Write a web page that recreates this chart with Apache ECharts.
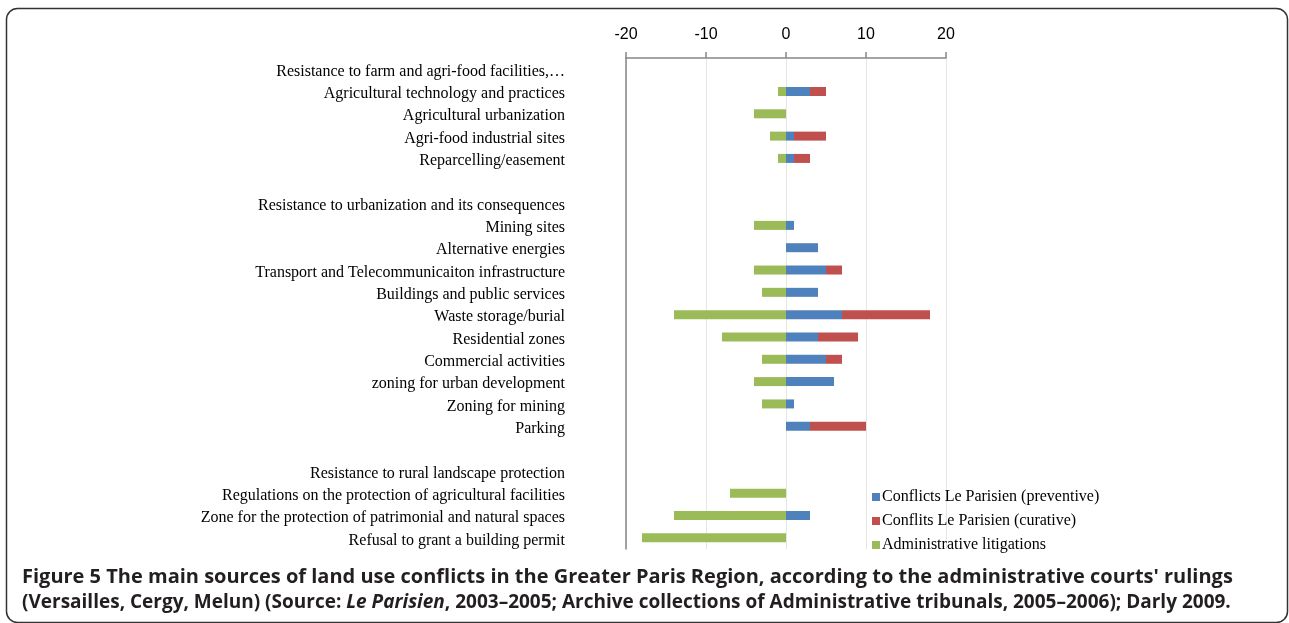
<!DOCTYPE html>
<html><head><meta charset="utf-8">
<script src="https://cdn.jsdelivr.net/npm/echarts@6/dist/echarts.min.js"></script>
<style>html,body{margin:0;padding:0;background:#fff;}#c{width:1289px;height:623px;}</style>
</head><body><div id="c"></div>
<script>
const categories = [
  "Resistance to farm and agri-food facilities,\u2026",
  "Agricultural technology and practices",
  "Agricultural urbanization",
  "Agri-food industrial sites",
  "Reparcelling/easement",
  "",
  "Resistance to urbanization and its consequences",
  "Mining sites",
  "Alternative energies",
  "Transport and Telecommunicaiton infrastructure",
  "Buildings and public services",
  "Waste storage/burial",
  "Residential zones",
  "Commercial activities",
  "zoning for urban development",
  "Zoning for mining",
  "Parking",
  " ",
  "Resistance to rural landscape protection",
  "Regulations on the protection of agricultural facilities",
  "Zone for the protection of patrimonial and natural spaces",
  "Refusal to grant a building permit"
];
const preventive = [null, 3, null, 1, 1, null, null, 1, 4, 5, 4, 7, 4, 5, 6, 1, 3, null, null, null, 3, null];
const curative   = [null, 2, null, 4, 2, null, null, null, null, 2, null, 11, 5, 2, null, null, 7, null, null, null, null, null];
const litigation = [null, -1, -4, -2, -1, null, null, -4, null, -4, -3, -14, -8, -3, -4, -3, null, null, null, -7, -14, -18];
const xTicks = [-20, 20, 10];
const seriesNames = ["Conflicts Le Parisien (preventive)", "Conflits Le Parisien (curative)", "Administrative litigations"];
const caption1 = "Figure 5";
const caption1b = " The main sources of land use conflicts in the Greater Paris Region, according to the administrative courts' rulings";

const chart = echarts.init(document.getElementById('c'));
const serif = '"Liberation Serif", "Times New Roman", serif';
const sans = '"Liberation Sans", Arial, sans-serif';
const capFont = '"Open Sans", sans-serif';
chart.setOption({
  animation: false,
  grid: { left: 626, right: 343, top: 58, bottom: 74, containLabel: false },
  legend: {
    orient: 'vertical', left: 867, top: 484, itemWidth: 8, itemHeight: 8, itemGap: 8,
    icon: 'rect', data: seriesNames,
    textStyle: { fontFamily: serif, fontSize: 16, color: '#000', padding: [0,0,0,-3] }
  },
  xAxis: {
    type: 'value', position: 'top', min: xTicks[0], max: xTicks[1], interval: xTicks[2],
    axisLine: { show: true, lineStyle: { color: '#868686', width: 1.5 } },
    axisTick: { show: true, length: 6, lineStyle: { color: '#868686', width: 1.5 } },
    axisLabel: { fontFamily: sans, fontSize: 16, color: '#000', margin: 15 },
    splitLine: { show: true, lineStyle: { color: '#e6e6e6', width: 1 } }
  },
  yAxis: {
    type: 'category', inverse: true, data: categories,
    axisLine: { show: true, onZero: false, lineStyle: { color: '#868686', width: 1.5 } },
    axisTick: { show: false },
    axisLabel: {
      margin: 61,
      formatter: v => '{a|' + v + '}',
      rich: { a: { fontFamily: serif, fontSize: 16, color: '#000', padding: [5, 0, 0, 0] } }
    }
  },
  series: [
    { name: seriesNames[0], type: 'bar', stack: 'all', data: preventive, barWidth: 9, itemStyle: { color: '#4F81BD' } },
    { name: seriesNames[1], type: 'bar', stack: 'all', data: curative, barWidth: 9, itemStyle: { color: '#C0504D' } },
    { name: seriesNames[2], type: 'bar', stack: 'all', data: litigation, barWidth: 9, itemStyle: { color: '#9BBB59' } }
  ],
  graphic: [
    { type: 'rect', shape: { x: 6.5, y: 8.5, width: 1281, height: 614, r: 11 }, style: { fill: null, stroke: '#333', lineWidth: 1.5 }, silent: true },
    { type: 'text', left: 22, top: 567, style: {
        text: '{b|' + caption1 + '}{n|' + caption1b + '}',
        rich: {
          b: { fontFamily: capFont, fontWeight: 'bold', fontSize: 20, fill: '#231f20' },
          n: { fontFamily: capFont, fontWeight: 'bold', fontSize: 20, fill: '#231f20' }
        } } },
    { type: 'text', left: 22, top: 593, style: {
        text: '{n|(Versailles, Cergy, Melun) (Source: }{i|Le Parisien}{n|, 2003\u20132005; Archive collections of Administrative tribunals, 2005\u20132006); Darly 2009.}',
        rich: {
          n: { fontFamily: capFont, fontWeight: 'bold', fontSize: 19, fill: '#231f20' },
          i: { fontFamily: capFont, fontWeight: 'bold', fontStyle: 'italic', fontSize: 19, fill: '#231f20' }
        } } }
  ]
});
</script></body></html>
